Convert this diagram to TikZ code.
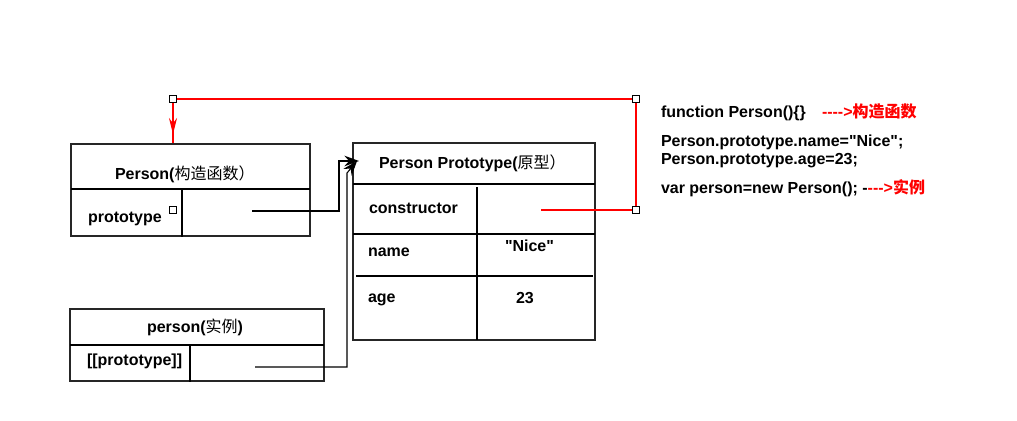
\documentclass[tikz,border=0pt]{standalone}
\usepackage{fontspec}
\setmainfont{Liberation Sans}[Ligatures=TeXOff]
\newfontfamily\cjk{Noto Sans CJK SC}
\usetikzlibrary{arrows.meta}
\begin{document}
\begin{tikzpicture}[x=0.75pt,y=-0.75pt,
  every node/.style={inner sep=0pt,outer sep=0pt},
  txt/.style={anchor=base west,font=\fontsize{12}{14}\selectfont\bfseries},
  box/.style={draw=black!85,line width=1.1pt,rectangle,fill=none},
  sep/.style={draw=black,line width=0.8pt},
  sq/.style={draw=black,fill=white,line width=0.8pt,minimum size=5.5pt,rectangle},
  blk/.style={draw=black,line width=0.8pt},
  redl/.style={draw=red,line width=0.8pt},
  tipb/.style={-{Stealth[length=11pt,width=8pt]}},
  tipr/.style={-{Stealth[length=12pt,width=6pt]}}
]
\useasboundingbox (0,0) rectangle (1017,421);

% boxes
\node[box,minimum width=179.25pt,minimum height=69pt] (b1) at (190.5,190) {};
\node[box,minimum width=190.5pt,minimum height=54pt] (b2) at (197,345) {};
\node[box,minimum width=181.5pt,minimum height=147.75pt] (b3) at (474,241.5) {};

% separators
\draw[sep] (71,189) -- (310,189);
\draw[sep] (182,189) -- (182,237);
\draw[sep] (70,345) -- (324,345);
\draw[sep] (190,345) -- (190,382);
\draw[sep] (353,184) -- (595,184);
\draw[sep] (477,187) -- (477,340);
\draw[sep] (353,234) -- (595,234);
\draw[sep] (356,276) -- (593,276);

% texts in boxes
\node[txt] (t1) at (115,179.5) {Person({\cjk\mdseries 构造函数）}};
\node[txt] (t2) at (88,222) {prototype};
\node[txt] (t3) at (147,332.5) {person({\cjk\mdseries 实例})};
\node[txt] (t4) at (87,365) {[[prototype]]};
\node[txt] (t5) at (379,168) {Person Prototype({\cjk\mdseries 原型）}};
\node[txt] (t6) at (369,213) {constructor};
\node[txt] (t7) at (368,256.5) {name};
\node[txt] (t8) at (505,251) {"Nice"};
\node[txt] (t9) at (368,302) {age};
\node[txt] (t10) at (516,303) {23};

% right side text
\node[txt] (r1) at (661,117) {function Person()\{\}};
\node[txt,text=red] (r1b) at (822,117) {---->{\cjk 构造函数}};
\node[txt] (r2) at (661,146.5) {Person.prototype.name="Nice";};
\node[txt] (r3) at (661,164.5) {Person.prototype.age=23;};
\node[txt] (r4) at (661,193) {var person=new Person(); -\textcolor{red}{--->{\cjk 实例}}};

% connector coordinates
\coordinate (p1) at (252,211);
\coordinate (p1a) at (339,211);
\coordinate (p1b) at (339,161);
\coordinate (p1e) at (359,161);
\coordinate (p2) at (255,367);
\coordinate (p2a) at (347,367);
\coordinate (p2b) at (347,173);
\coordinate (p2e) at (357,161);
\coordinate (c0) at (541,210);
\coordinate (c1) at (636,210);
\coordinate (c2) at (636,99);
\coordinate (c3) at (173,99);
\coordinate (c4) at (173,143);
\coordinate (ct) at (173,134);

\draw[blk,tipb] (p1) -- (p1a) -- (p1b) -- (p1e);
\draw[blk,tipb] (p2) -- (p2a) -- (p2b) -- (p2e);
\draw[redl] (c0) -- (c1) -- (c2) -- (c3) -- (c4);
\draw[redl,tipr] (c3) -- (ct);

% squares
\node[sq] (s1) at (c1) {};
\node[sq] (s2) at (c2) {};
\node[sq] (s3) at (c3) {};
\node[sq] (s4) at (173,210) {};
\end{tikzpicture}
\end{document}
